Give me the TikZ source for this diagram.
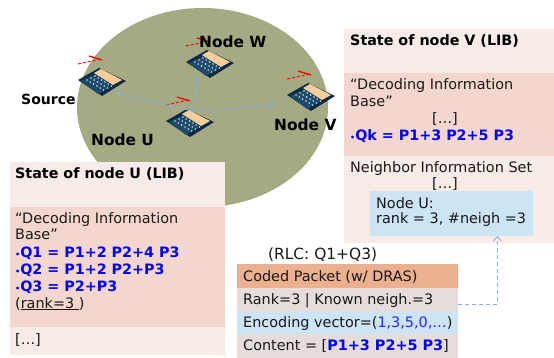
\documentclass[tikz,border=0pt]{standalone}
\usepackage{fontspec}
\setmainfont{DejaVu Sans}
\usetikzlibrary{arrows.meta}
\definecolor{cellgreen}{HTML}{A5AA82}
\definecolor{boxlight}{HTML}{F7EBE7}
\definecolor{boxrose}{HTML}{F3D7CE}
\definecolor{boxblue}{HTML}{CCE4F3}
\definecolor{boxorange}{HTML}{EBB08F}
\definecolor{boxgrey}{HTML}{E5DDDA}
\definecolor{linkblue}{HTML}{8FB0CC}
\definecolor{laptopnavy}{HTML}{0C2A45}
\definecolor{laptopkeys}{HTML}{1E4A6C}
\definecolor{laptopscreen}{HTML}{F6CE9C}
\newcommand{\qsym}{{\fontsize{8}{8}\selectfont•}}
\tikzset{
    txt/.style={anchor=base west,inner sep=0pt,font=\fontsize{14.4}{15}\selectfont,text=black!90},
    headtxt/.style={txt,font=\fontsize{14.3}{15}\selectfont\bfseries,text=black},
    nodetxt/.style={txt,font=\fontsize{15.4}{15}\selectfont\bfseries,text=black},
    qtxt/.style={txt,font=\fontsize{14.3}{15}\selectfont\bfseries,text=blue},
    link/.style={linkblue,line width=.9pt,-{Straight Barb[length=5pt,width=9pt]}},
    pics/laptop/.style={code={
        % radio waves
        \draw[red,line width=.9pt,densely dashed] (-24,-17)--(-1,-22);
        \draw[red,line width=1.3pt] (-13,-25)--(0,-21);
        % body
        \fill[laptopnavy] (-24,-1)--(-3,-13)--(24,0)--(0,15)--cycle;
        \fill[laptopkeys] (-21,0)--(-6,-7)--(10,5)--(-4,13)--cycle;
        \fill[laptopscreen] (-8,-8)--(-1,-12)--(20,-1)--(11,4)--cycle;
        \foreach \i in {0,1,2}
            \foreach \j in {0,1,2,3,4,5}
                \fill[cyan!25!gray!40!white] ({-15+\i*4+\j*3.3},{-1-\i*2+\j*2}) circle (.9);
    }}
}
\begin{document}
\begin{tikzpicture}[x=1pt,y=-1pt]
    \useasboundingbox (0,0) rectangle (554,358);
    \fill[cellgreen] (202.5,107.5) ellipse (125.5 and 99.5);
    % the four laptops
    \pic at (102,81) {laptop};
    \pic at (210,63) {laptop};
    \pic at (190,122) {laptop};
    \pic at (311,96) {laptop};
    \coordinate (hubU) at (193,111);
    \coordinate (endS) at (116,93);
    \coordinate (endW) at (198,77);
    \coordinate (endV) at (274,105);
    \draw[link] (hubU)--(endS);
    \draw[link] (hubU)--(endW);
    \draw[link] (hubU)--(endV);
    \node[nodetxt,font=\fontsize{14}{15}\selectfont\bfseries] (lblS) at (21,105) {Source};
    \node[nodetxt] (lblW) at (199,48) {Node W};
    \node[nodetxt] (lblU) at (91,146) {Node U};
    \node[nodetxt] (lblV) at (274,131) {Node V};
    % state of node V
    \fill[boxlight] (344,29) rectangle (554,243);
    \fill[boxrose] (344,73) rectangle (554,156);
    \node[headtxt] (headV) at (350,46) {State of node V (LIB)};
    \node[txt] (dibV) at (350,90) {“Decoding Information};
    \node[txt] (dibVb) at (350,107) {Base”};
    \node[txt] (dotsV) at (432,124) {[…]};
    \node[qtxt] (qk) at (350,141) {{\qsym}Qk = P1+3 P2+5 P3};
    \node[txt] (nisV) at (350,173) {Neighbor Information Set};
    \node[txt] (dotsVb) at (432,189) {[…]};
    \node[fill=boxblue,minimum width=163pt,minimum height=45pt,inner sep=0pt] (neighU) at (451.5,213.5) {};
    \node[txt] (neighA) at (376,208) {Node U:};
    \node[txt] (neighB) at (376,224) {rank = 3, \#neigh =3};
    % state of node U
    \fill[boxlight] (10,162) rectangle (225,355);
    \fill[boxrose] (10,207) rectangle (225,327);
    \node[headtxt] (headU) at (15,179) {State of node U (LIB)};
    \node[txt] (dibU) at (15,223) {“Decoding Information};
    \node[txt] (dibUb) at (15,240) {Base”};
    \node[qtxt] (qa) at (15,257) {{\qsym}Q1 = P1+2 P2+4 P3};
    \node[qtxt] (qb) at (15,274) {{\qsym}Q2 = P1+2 P2+P3};
    \node[qtxt] (qc) at (15,291) {{\qsym}Q3 = P2+P3};
    \node[txt] (rankU) at (15,308) {(\underline{rank=3\ })};
    \node[txt] (dotsU) at (15,344) {[…]};
    % coded packet
    \node[txt,font=\fontsize{15.4}{15}\selectfont] (rlc) at (268,259) {(RLC: Q1+Q3)};
    \foreach \ya/\yb/\col in {264/288/boxorange,288/311/boxgrey,311/334/boxblue,334/358/boxgrey}
        \fill[\col] (237,\ya) rectangle (458,\yb);
    \node[txt] (coded) at (243,281) {Coded Packet (w/ DRAS)};
    \node[txt] (rankrow) at (243,304) {Rank=3 | Known neigh.=3};
    \node[txt] (encrow) at (243,327) {Encoding vector=({\color{blue!85!white}1,3,5,0,…})};
    \node[txt] (controw) at (243,350) {Content = [{\bfseries\color{blue}P1+3 P2+5 P3}]};
    \coordinate (pktout) at (458,304);
    \draw[link,line width=.8pt,dash pattern=on 4pt off 3pt,-{Straight Barb[length=4pt,width=8pt]}] (pktout)-|([xshift=-36pt]neighU.south east);
\end{tikzpicture}
\end{document}
